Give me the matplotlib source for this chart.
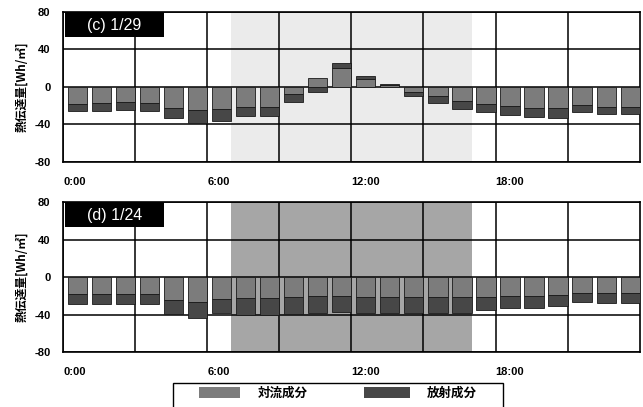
import numpy as np
import matplotlib.pyplot as plt
from matplotlib.patches import Rectangle

plt.rcParams['font.family'] = ['Liberation Sans', 'Noto Sans CJK JP', 'DejaVu Sans']
plt.rcParams['axes.unicode_minus'] = False

# hourly heat transfer [Wh/m2], convection and radiation parts
hours = np.arange(24)

conv_c = [-18, -17, -16, -17, -22, -25, -24, -21, -21, -8, 10, 20,
          9, 2, -5, -10, -15, -18, -20, -22, -22, -19, -21, -21]
rad_c = [-8, -8.5, -8.5, -8.5, -11, -13, -12, -10, -10, -8, -5, 6,
         3, 1, -5, -7, -8, -9, -10, -10, -11, -8, -8, -8]

conv_d = [-18, -18, -18, -18, -24, -27, -23, -22, -22, -21, -20, -20,
          -21, -21, -21, -21, -21, -21, -20, -20, -19, -17, -17, -17]
rad_d = [-11, -11, -11, -11, -15, -17, -15, -18, -18, -18, -18, -17,
         -17, -17, -17, -17, -17, -14, -13, -13, -12, -10, -11, -11]

panels = [('(c) 1/29', conv_c, rad_c, '#ebebeb'),
          ('(d) 1/24', conv_d, rad_d, '#a6a6a6')]
day_start, day_end = 7, 17

series_names = ['対流成分', '放射成分']
conv_color = '#7c7c7c'
rad_color = '#474747'

W, H = 643, 407
fig = plt.figure(figsize=(W / 100, H / 100), dpi=100)
axes_pos = [[0.098, 0.602, 0.897, 0.3686],
            [0.098, 0.135, 0.897, 0.3686]]

for pos, (title, conv, rad, shade) in zip(axes_pos, panels):
    ax = fig.add_axes(pos)
    conv = np.array(conv, dtype=float)
    rad = np.array(rad, dtype=float)

    # daytime band
    ax.axvspan(day_start, day_end, color=shade, zorder=0, lw=0)

    x = hours + 0.6
    ax.bar(x, conv, width=0.8, color=conv_color, edgecolor='#1a1a1a',
           lw=0.6, zorder=3)
    # stack radiation on convection when both have the same sign
    base = np.where(np.sign(conv) == np.sign(rad), conv, 0)
    ax.bar(x, rad, width=0.8, bottom=base, color=rad_color,
           edgecolor='#1a1a1a', lw=0.6, zorder=3)

    ax.set_xlim(0, 24)
    ax.set_ylim(-80, 80)
    ax.set_yticks([-80, -40, 0, 40, 80])
    ax.set_xticks([0, 6, 12, 18])
    ax.set_xticks([3, 9, 15, 21], minor=True)
    ax.set_xticklabels(['0:00', '6:00', '12:00', '18:00'], ha='left')
    ax.tick_params(axis='both', which='both', length=0, labelsize=8)
    ax.tick_params(axis='x', pad=11)
    ax.tick_params(axis='y', pad=9)
    for lab in ax.get_xticklabels() + ax.get_yticklabels():
        lab.set_fontweight('bold')

    ax.grid(True, which='both', color='black', lw=1.1, zorder=2)
    ax.set_axisbelow(False)
    for sp in ax.spines.values():
        sp.set_linewidth(1.2)

    ax.set_ylabel('熱伝達量[Wh/㎡]', fontsize=8.5, fontweight='bold',
                  family=['Noto Sans CJK JP', 'DejaVu Sans'], labelpad=4)

    # panel tag
    ax.add_patch(Rectangle((0.003, 0.833), 0.172, 0.167,
                           transform=ax.transAxes, facecolor='black',
                           edgecolor='none', zorder=5))
    ax.text(0.089, 0.912, title, transform=ax.transAxes, color='white',
            fontsize=11.5, ha='center', va='center', zorder=6)

# legend box below the panels (pixel layout converted to figure fraction)
def fx(px):
    return px / W

def fy(py):
    return 1 - py / H

# box runs past the bottom edge of the figure
fig.add_artist(Rectangle((fx(173), fy(415)), fx(503) - fx(173),
                         fy(383) - fy(415), transform=fig.transFigure,
                         facecolor='white', edgecolor='black', lw=1.0))
entries = [(series_names[0], conv_color, 199, 240, 258),
           (series_names[1], rad_color, 364, 410, 427)]
for name, color, x0, x1, tx in entries:
    fig.add_artist(Rectangle((fx(x0), fy(398)), fx(x1) - fx(x0),
                             fy(387) - fy(398), transform=fig.transFigure,
                             facecolor=color, edgecolor='none'))
    fig.text(fx(tx), fy(393), name, fontsize=9, fontweight='bold',
             family=['Noto Sans CJK JP', 'DejaVu Sans'],
             ha='left', va='center')

fig.savefig('out.png', dpi=100)
